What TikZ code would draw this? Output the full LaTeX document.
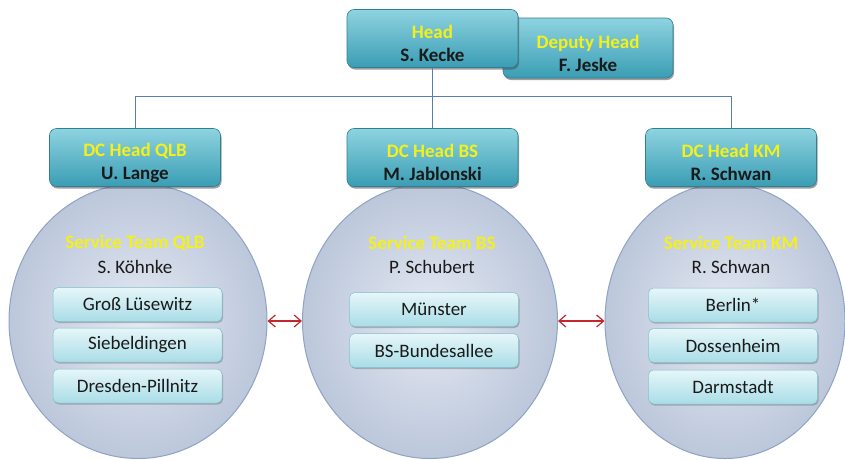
\documentclass[tikz,border=0pt]{standalone}
\usepackage{fontspec}
\setmainfont{Carlito}
\usetikzlibrary{shapes.geometric,shadows,arrows.meta}
\definecolor{tealtop}{HTML}{8ED3E0}
\definecolor{tealbot}{HTML}{3A9DB4}
\definecolor{tealedge}{HTML}{2F7F95}
\definecolor{celltop}{HTML}{E6F6F9}
\definecolor{cellbot}{HTML}{A9DDE7}
\definecolor{celledge}{HTML}{7FBFCC}
\definecolor{ballin}{HTML}{E4E9F2}
\definecolor{ballout}{HTML}{BCC7DB}
\definecolor{balledge}{HTML}{8FA3C2}
\definecolor{linkblue}{HTML}{5B7DB5}
\definecolor{hdyellow}{HTML}{F4F01A}
\definecolor{arrowred}{HTML}{C0282D}
\definecolor{txt}{HTML}{1A1A1A}
\tikzset{
  headbox/.style={rectangle, rounded corners=7pt, draw=tealedge, line width=0.6pt,
    top color=tealtop, bottom color=tealbot, minimum width=171pt, minimum height=58pt,
    align=center, font=\fontsize{19}{23}\selectfont\bfseries, text=txt,
    drop shadow={shadow xshift=1pt, shadow yshift=-2pt, opacity=0.55, fill=black!70}},
  cellbox/.style={rectangle, rounded corners=5pt, draw=celledge, line width=0.5pt,
    top color=celltop, bottom color=cellbot, minimum width=169pt, minimum height=34pt,
    align=center, font=\fontsize{19}{23}\selectfont, text=txt,
    drop shadow={shadow xshift=1pt, shadow yshift=-1.5pt, opacity=0.4, fill=black!60}},
  ball/.style={ellipse, draw=balledge, line width=1pt, shading=radial,
    inner color=ballin, outer color=ballout, minimum height=275pt},
  teamtitle/.style={font=\fontsize{19}{23}\selectfont\bfseries, text=hdyellow},
  teamname/.style={font=\fontsize{19}{23}\selectfont, text=txt},
  orgline/.style={draw=linkblue, line width=0.8pt},
  peer/.style={draw=arrowred, line width=1.2pt, {Straight Barb[length=7pt,width=12pt]}-{Straight Barb[length=7pt,width=12pt]}}
}
\newcommand{\yl}[1]{\rule{0pt}{24pt}\textcolor{hdyellow}{#1}}
\begin{document}
\begin{tikzpicture}[x=1pt,y=-1pt]
\useasboundingbox (0,0) rectangle (845,459);
\clip (0,0) rectangle (845,459);
% team ellipses
\node[ball, minimum width=258pt] (e1) at (138,321) {};
\node[ball, minimum width=255pt] (e2) at (430,321) {};
\node[ball, minimum width=240pt] (e3) at (725,321) {};
% top heads
\node[headbox, minimum width=170pt, minimum height=60pt] (deputy) at (588,48)
  {\yl{Deputy Head}\\F. Jeske};
\node[headbox] (head) at (432.5,38.5) {\yl{Head}\\S. Kecke};
% DC heads
\node[headbox] (dc1) at (135,157.5) {\yl{DC Head QLB}\\U. Lange};
\node[headbox] (dc2) at (432.5,157.5) {\yl{DC Head BS}\\M. Jablonski};
\node[headbox] (dc3) at (731,157.5) {\yl{DC Head KM}\\R. Schwan};
% connectors
\coordinate (bus) at (432.5,96);
\draw[orgline] (head.south) -- (dc2.north);
\draw[orgline] (bus) -| (dc1.north);
\draw[orgline] (bus) -| (dc3.north);
% team texts
\node[teamtitle] (t1) at (135,243) {Service Team QLB};
\node[teamname] (n1) at (135,267) {S. Köhnke};
\node[teamtitle] (t2) at (432,243) {Service Team BS};
\node[teamname] (n2) at (432,267) {P. Schubert};
\node[teamtitle] (t3) at (731,243) {Service Team KM};
\node[teamname] (n3) at (731,267) {R. Schwan};
% locations
\node[cellbox] (q1) at (137.5,304.5) {Groß Lüsewitz};
\node[cellbox] (q2) at (137.5,345) {Siebeldingen};
\node[cellbox] (q3) at (137.5,386) {Dresden-Pillnitz};
\node[cellbox] (b1) at (434,309.5) {Münster};
\node[cellbox] (b2) at (434,350.5) {BS-Bundesallee};
\node[cellbox] (k1) at (733,305) {Berlin*};
\node[cellbox] (k2) at (733,345.5) {Dossenheim};
\node[cellbox] (k3) at (733,387) {Darmstadt};
% peer arrows
\draw[peer] (e1.east) -- (e2.west);
\draw[peer] (e2.east) -- (e3.west);
\end{tikzpicture}
\end{document}
